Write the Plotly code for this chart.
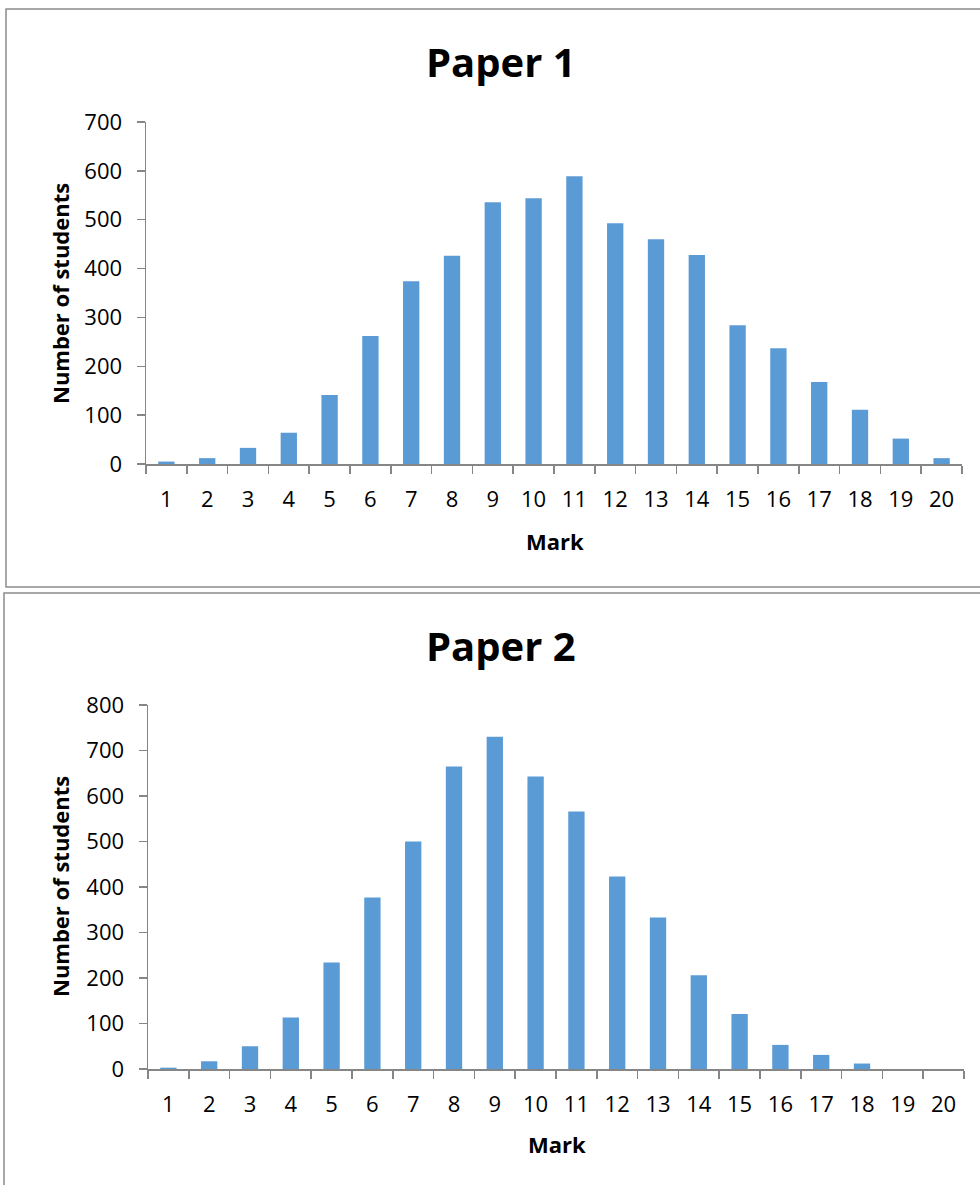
import plotly.graph_objects as go

marks = [str(i) for i in range(1, 21)]
paper1 = [5, 12, 33, 64, 141, 262, 374, 426, 536, 544, 589, 493, 460, 428, 284, 237, 168, 111, 52, 12]
paper2 = [3, 17, 50, 113, 234, 377, 500, 665, 730, 643, 566, 423, 333, 206, 121, 53, 31, 12, 0, 0]

W, H = 980, 1185
BAR = "#5B9BD5"
AX = "#868686"
FONT = "Open Sans"

def px(x):
    return x / W

def py(y):
    return 1 - y / H

fig = go.Figure()
fig.add_trace(go.Bar(x=marks, y=paper1, marker=dict(color=BAR, line=dict(width=0)),
                     xaxis="x", yaxis="y", showlegend=False, hoverinfo="skip"))
fig.add_trace(go.Bar(x=marks, y=paper2, marker=dict(color=BAR, line=dict(width=0)),
                     xaxis="x2", yaxis="y2", showlegend=False, hoverinfo="skip"))

xcommon = dict(type="category", showline=True, linecolor=AX, linewidth=1.5,
               ticks="outside", tickson="boundaries", ticklen=8, tickcolor=AX, tickwidth=1.5,
               showgrid=False, zeroline=False, automargin=False, ticklabelstandoff=15,
               tickfont=dict(family=FONT, size=22, color="#000000"))
ycommon = dict(showline=True, linecolor=AX, linewidth=1.5, ticks="outside", ticklen=8,
               tickcolor=AX, tickwidth=1.5, showgrid=False, zeroline=False, dtick=100,
               automargin=False, ticklabelstandoff=10,
               tickfont=dict(family=FONT, size=22, color="#000000"))

def ann(text, x, y, size, angle=0):
    return dict(text=text, x=px(x), y=py(y), xref="paper", yref="paper",
                xanchor="center", yanchor="middle", showarrow=False, textangle=angle,
                font=dict(family=FONT, size=size, color="#000000"))

fig.update_layout(
    width=W, height=H,
    margin=dict(l=0, r=0, t=0, b=0, pad=0, autoexpand=False),
    showlegend=False,
    paper_bgcolor="white", plot_bgcolor="white",
    bargap=0.6,
    xaxis=dict(domain=[px(146), px(962)], anchor="y", **xcommon),
    yaxis=dict(domain=[py(464), py(122)], anchor="x", range=[0, 700], **ycommon),
    xaxis2=dict(domain=[px(148), px(964)], anchor="y2", **xcommon),
    yaxis2=dict(domain=[py(1069), py(705)], anchor="x2", range=[0, 800], **ycommon),
    shapes=[
        dict(type="rect", xref="paper", yref="paper", x0=px(6), x1=px(990), y0=py(587), y1=py(9),
             line=dict(color="#8c8c8c", width=1.5), fillcolor="rgba(0,0,0,0)", layer="below"),
        dict(type="rect", xref="paper", yref="paper", x0=px(4), x1=px(990), y0=py(1200), y1=py(593),
             line=dict(color="#8c8c8c", width=1.5), fillcolor="rgba(0,0,0,0)", layer="below"),
    ],
    annotations=[
        ann("<b>Paper 1</b>", 501, 62, 40),
        ann("<b>Paper 2</b>", 501, 645, 40),
        ann("<b>Mark</b>", 555, 541, 22),
        ann("<b>Mark</b>", 557, 1144, 22),
        ann("<b>Number of students</b>", 60, 294, 22, -90),
        ann("<b>Number of students</b>", 60, 887, 22, -90),
    ],
)

fig.write_html("out.html", config={"displayModeBar": False, "staticPlot": True},
               post_script="document.body.style.margin='0';document.body.style.padding='0';")
